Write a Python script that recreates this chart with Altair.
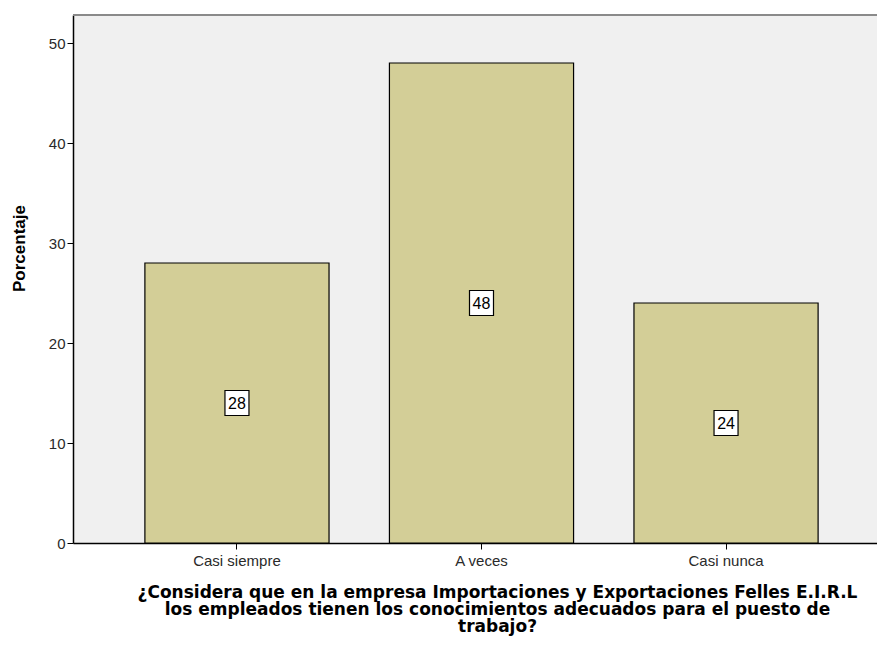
import altair as alt
import pandas as pd

categories = ["Casi siempre", "A veces", "Casi nunca"]
values = [28, 48, 24]
labels = ["28", "48", "24"]

df = pd.DataFrame({"cat": categories, "val": values, "lab": labels})
df["mid"] = df["val"] / 2

FONT = "Liberation Sans"
xscale = alt.Scale(domain=categories, range=[0, 817], paddingInner=0.247, paddingOuter=0.294)
yscale = alt.Scale(domain=[0, 52.8], nice=False)

x_axis = alt.Axis(title=["¿Considera que en la empresa Importaciones y Exportaciones Felles  E.I.R.L",
                         "los empleados tienen los conocimientos adecuados para el puesto de",
                         "trabajo?"],
                  labelAngle=0, labelFont=FONT, labelFontSize=15, labelColor="#2a2a2a",
                  labelPadding=4, tickColor="#000000", tickSize=6, domainColor="#000000",
                  domainWidth=1.5, titleFont="DejaVu Sans", titleFontSize=17, titleFontWeight="bold",
                  titleColor="#000000", titleLineHeight=17, titlePadding=16,
                  titleX=424, titleAnchor="middle")
y_axis = alt.Axis(title="Porcentaje", values=[0, 10, 20, 30, 40, 50], grid=False,
                  labelFont=FONT, labelFontSize=15, labelColor="#2a2a2a",
                  tickColor="#000000", tickSize=6, domainColor="#000000", domainWidth=1.5,
                  titleFont=FONT, titleFontSize=17, titleFontWeight="bold", titleColor="#000000",
                  titlePadding=20, titleY=233, titleAnchor="middle")

X = alt.X("cat:N", scale=xscale, sort=categories, axis=x_axis)

bars = alt.Chart(df).mark_bar(color="#D3CE97", stroke="#000000", strokeWidth=1.2).encode(
    x=X,
    y=alt.Y("val:Q", scale=yscale, axis=y_axis),
)

boxes = alt.Chart(df).mark_rect(fill="white", stroke="#000000", strokeWidth=1.2, width=24, height=25).encode(
    x=X,
    y=alt.Y("mid:Q", scale=yscale, axis=y_axis),
)

texts = alt.Chart(df).mark_text(font=FONT, fontSize=16, color="#000000", baseline="middle", dy=1).encode(
    x=X,
    y=alt.Y("mid:Q", scale=yscale, axis=y_axis),
    text="lab:N",
)

topline = alt.Chart(df).mark_rule(color="#8a8a8a", strokeWidth=2).encode(
    x=alt.value(0), x2=alt.value(804), y=alt.value(0)
)

chart = alt.layer(bars, boxes, texts, topline).properties(
    width=804, height=528,
    padding={"left": 73, "top": 15, "right": 0, "bottom": 108},
    autosize=alt.AutoSizeParams(type="none"),
    background="white",
).configure_view(fill="#F0F0F0", stroke=None)

chart.save("out.html", embed_options={"renderer": "svg", "actions": False})
